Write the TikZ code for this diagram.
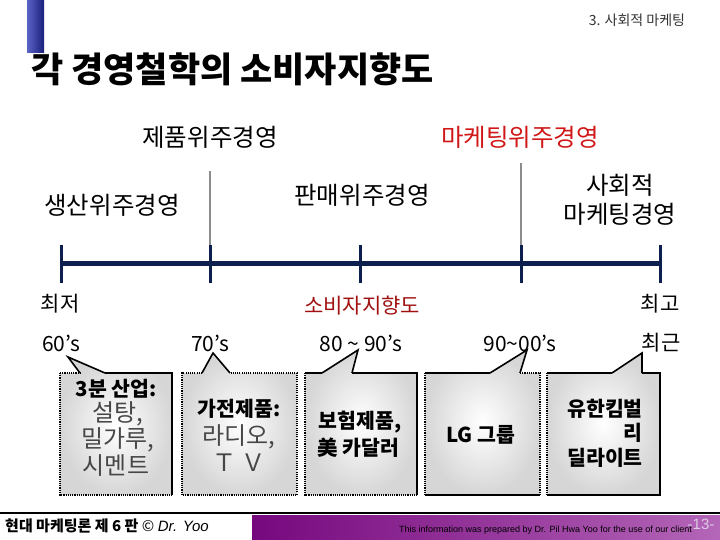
\documentclass[tikz,border=0pt]{standalone}
\usepackage{fontspec}
\newfontfamily\kr{Noto Sans CJK KR}
\newfontfamily\lat{Liberation Sans}
\definecolor{navy}{HTML}{0D1F4F}
\definecolor{barA}{HTML}{5A64C8}
\definecolor{barB}{HTML}{1A1E7A}
\definecolor{mred}{HTML}{D01818}
\definecolor{dred}{HTML}{A01010}
\definecolor{purA}{HTML}{76087E}
\definecolor{purB}{HTML}{B466B8}
\definecolor{pg}{HTML}{DCCCE4}
\tikzset{
  txt/.style={inner sep=0pt, font=\kr\fontsize{24.5}{28}\selectfont},
  mid/.style={inner sep=0pt, font=\kr\fontsize{21}{24}\selectfont},
  bx/.style={inner sep=0pt, font=\kr\bfseries\fontsize{20.5}{24}\selectfont},
  thin/.style={inner sep=0pt, font=\kr\fontsize{24}{28}\selectfont, text=black!72},
  dotb/.style={line width=2.6pt, dash pattern=on 1.1pt off 1.1pt},
  solb/.style={line width=2.4pt},
  ptr/.style={line width=1.6pt, line join=miter},
  boxfill/.style={inner color=white, outer color=gray!32},
  tick/.style={navy, line width=3pt},
}
\begin{document}
\begin{tikzpicture}[x=1pt,y=-1pt]
\useasboundingbox (0,0) rectangle (720,540);
% blue bar
\shade[left color=barA, right color=barB] (27,0) rectangle (44,53);
% header
\node[inner sep=0pt, font=\kr\fontsize{14}{16}\selectfont, text=black!80] (sec) at (637,20) {3. 사회적 마케팅};
\node[inner sep=0pt, anchor=west, font=\kr\bfseries\fontsize{35}{40}\selectfont] (title) at (31,69) {각 경영철학의 소비자지향도};
% upper labels
\node[txt] (prod) at (210,137) {제품위주경영};
\node[txt, text=mred] (mkt) at (520,137) {마케팅위주경영};
\node[txt] (prodn) at (112,205) {생산위주경영};
\node[txt] (sale) at (362,195) {판매위주경영};
\node[txt, align=center] (soc) at (620,200) {사회적\\[1pt]마케팅경영};
% timeline
\coordinate (k1) at (61,263);
\coordinate (k2) at (210,263);
\coordinate (k3) at (360,263);
\coordinate (k4) at (521,263);
\coordinate (k5) at (660,263);
\draw[gray!90, line width=2pt] (k2) ++(0,-18) -- +(0,-74);
\draw[gray!90, line width=2pt] (k4) ++(0,-18) -- +(0,-82);
\draw[navy, line width=5pt] (k1) -- (k5);
\foreach \k in {k1,k2,k3,k4,k5} \draw[tick] (\k) ++(0,-18) -- +(0,38);
% lower labels
\node[mid] (lo) at (60,304) {최저};
\node[mid, text=dred] (ori) at (362,306) {소비자지향도};
\node[mid] (hi) at (660,304) {최고};
\node[mid] (d1) at (61,343) {60’s};
\node[mid] (d2) at (210,343) {70’s};
\node[mid] (d3) at (361,343) {80 \textasciitilde{} 90’s};
\node[mid] (d4) at (520,343) {90\textasciitilde{}00’s};
\node[mid] (d5) at (661,343) {최근};
% callouts
\def\T{373}\def\B{495}
\coordinate (t1) at (68,357);
\coordinate (t2) at (213,353);
\coordinate (t3) at (358,350);
\coordinate (t4) at (527,350);
\coordinate (t5) at (642,353);
% box 1
\shade[boxfill] (60,\T) -- (80,\T) -- (t1) -- (105,\T) -- (172,\T) -- (172,\B) -- (60,\B) -- cycle;
\draw[dotb] (60,\T) -- (80,\T);
\draw[dotb] (60,\T) -- (60,\B) -- (172,\B);
\draw[ptr] (80,\T) -- (t1) -- (105,\T);
\draw[solb] (105,\T) -- (172,\T) -- (172,\B);
% box 2
\shade[boxfill] (182,\T) -- (202,\T) -- (t2) -- (230,\T) -- (297,\T) -- (297,\B) -- (182,\B) -- cycle;
\draw[dotb] (202,\T) -- (182,\T) -- (182,\B) -- (297,\B) -- (297,\T) -- (230,\T);
\draw[ptr] (202,\T) -- (t2) -- (230,\T);
% box 3
\shade[boxfill] (305,\T) -- (322,\T) -- (t3) -- (352,\T) -- (417,\T) -- (417,\B) -- (305,\B) -- cycle;
\draw[dotb] (305,\T) -- (305,\B) -- (417,\B);
\draw[solb] (305,\T) -- (322,\T);
\draw[ptr] (322,\T) -- (t3) -- (352,\T);
\draw[solb] (352,\T) -- (417,\T) -- (417,\B);
% box 4
\shade[boxfill] (425,\T) -- (490,\T) -- (t4) -- (520,\T) -- (540,\T) -- (540,\B) -- (425,\B) -- cycle;
\draw[dotb] (425,\T) -- (425,\B);
\draw[solb] (425,\T) -- (490,\T);
\draw[ptr] (490,\T) -- (t4) -- (520,\T);
\draw[dotb] (520,\T) -- (540,\T) -- (540,\B);
\draw[solb] (425,\B) -- (540,\B);
% box 5
\shade[boxfill] (547,\T) -- (612,\T) -- (t5) -- (642,\T) -- (660,\T) -- (660,\B) -- (547,\B) -- cycle;
\draw[dotb] (547,\T) -- (547,\B);
\draw[solb] (547,\T) -- (612,\T);
\draw[ptr] (612,\T) -- (t5) -- (642,\T);
\draw[solb] (642,\T) -- (660,\T) -- (660,\B) -- (547,\B);
% box texts
\node[bx] (b1a) at (116,389) {3분 산업:};
\node[thin] (b1b) at (118,414) {설탕,};
\node[thin] (b1c) at (118,440) {밀가루,};
\node[thin] (b1d) at (116,466) {시멘트};
\node[bx] (b2a) at (239,409) {가전제품:};
\node[thin] (b2b) at (239,437) {라디오,};
\node[thin] (b2c) at (239,463) {Ｔ Ｖ};
\node[bx] (b3a) at (360,422) {보험제품,};
\node[bx] (b3b) at (358,448) {美 카달러};
\node[bx] (b4) at (481,435) {LG 그룹};
\node[bx, anchor=east] (b5a) at (643,409) {유한킴벌};
\node[bx, anchor=east] (b5b) at (643,433) {리};
\node[bx, anchor=east] (b5c) at (643,458) {딜라이트};
% footer
\draw[line width=2.5pt] (0,513) -- (720,513);
\shade[left color=purA, right color=purB] (252,515) rectangle (720,540);
\node[inner sep=0pt, anchor=west, font=\kr\fontsize{15}{17}\selectfont] (foot) at (5,526) {\bfseries 현대 마케팅론 제 6 판 {\mdseries ©} {\lat\itshape\mdseries Dr. Yoo}};
\node[inner sep=0pt, anchor=west, font=\lat\fontsize{9}{11}\selectfont] (info) at (399,530) {This information was prepared by Dr. Pil Hwa Yoo for the use of our client};
\node[inner sep=0pt, font=\lat\fontsize{15}{17}\selectfont, text=pg] (pg) at (701,524) {-13-};
\end{tikzpicture}
\end{document}
